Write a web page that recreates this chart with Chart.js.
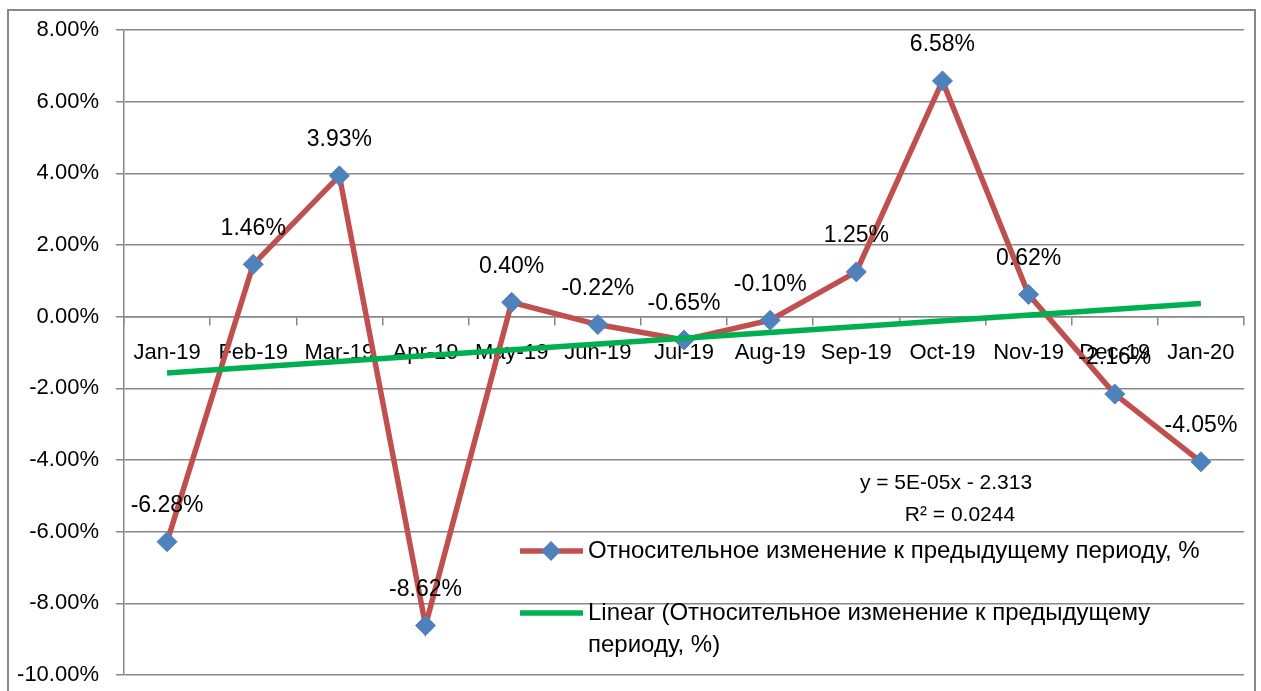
<!DOCTYPE html>
<html>
<head>
<meta charset="utf-8">
<title>Относительное изменение к предыдущему периоду</title>
<script src="https://cdn.jsdelivr.net/npm/chart.js@4.4.0/dist/chart.umd.min.js"></script>
<style>
  html, body { margin: 0; padding: 0; background: #fff; }
  #wrap { width: 1261px; height: 691px; position: relative; }
</style>
</head>
<body>
<div id="wrap"><canvas id="chart"></canvas></div>
<script>
// monthly figures, in percent
const months = ['Jan-19', 'Feb-19', 'Mar-19', 'Apr-19', 'May-19', 'Jun-19', 'Jul-19',
                'Aug-19', 'Sep-19', 'Oct-19', 'Nov-19', 'Dec-19', 'Jan-20'];
const changePct = [-6.28, 1.46, 3.93, -8.62, 0.40, -0.22, -0.65, -0.10, 1.25, 6.58, 0.62, -2.16, -4.05];
// linear trendline: value at the first and the last month
const trendEnds = [-1.57, 0.37];
const yRange = [-10, 8, 2]; // min, max, step

const seriesName = 'Относительное изменение к предыдущему периоду, %';
const trendName = 'Linear (Относительное изменение к предыдущему периоду, %)';
const trendEquation = ['y = 5E-05x - 2.313', 'R² = 0.0244'];

const FONT = '"Liberation Sans", Arial, sans-serif';
const GRID = '#888888';
const RED = '#C0504D';
const BLUE = '#4F81BD';
const GREEN = '#00B050';

Chart.defaults.font.family = FONT;
Chart.defaults.font.size = 22;
Chart.defaults.color = '#000';

const pct = v => v.toFixed(2) + '%';

// only the two ends are known, the line is drawn straight between them
const trendData = months.map((m, i) => {
    if (i === 0) return trendEnds[0];
    if (i === months.length - 1) return trendEnds[1];
    return null;
});

// outer frame of the chart
const framePlugin = {
    id: 'frame',
    beforeDraw(chart) {
        const ctx = chart.ctx;
        ctx.save();
        ctx.strokeStyle = GRID;
        ctx.lineWidth = 2;
        ctx.strokeRect(8, 10, 1247, 720);
        ctx.restore();
    }
};

// value labels above each point
const valueLabels = {
    id: 'valueLabels',
    afterDatasetsDraw(chart) {
        const ctx = chart.ctx;
        const meta = chart.getDatasetMeta(1);
        ctx.save();
        ctx.font = '23px ' + FONT;
        ctx.fillStyle = '#000';
        ctx.textAlign = 'center';
        ctx.textBaseline = 'middle';
        meta.data.forEach((pt, i) => {
            ctx.fillText(pct(changePct[i]), pt.x, pt.y - 36);
        });
        ctx.restore();
    }
};

function wrapText(ctx, text, maxWidth) {
    const words = text.split(' ');
    const lines = [];
    let line = '';
    words.forEach(w => {
        const test = line ? line + ' ' + w : w;
        if (line && ctx.measureText(test).width > maxWidth) {
            lines.push(line);
            line = w;
        } else {
            line = test;
        }
    });
    lines.push(line);
    return lines;
}

// legend and trendline equation inside the plot
const innerLegend = {
    id: 'innerLegend',
    afterDraw(chart) {
        const ctx = chart.ctx;
        ctx.save();
        ctx.fillStyle = '#000';
        ctx.textBaseline = 'middle';

        ctx.font = '21px ' + FONT;
        ctx.textAlign = 'center';
        ctx.fillText(trendEquation[0], 946, 483);
        ctx.fillText(trendEquation[1], 960, 515);

        ctx.font = '24px ' + FONT;
        ctx.textAlign = 'left';
        const maxW = ctx.measureText(seriesName).width + 6;

        // series entry
        ctx.strokeStyle = RED;
        ctx.lineWidth = 5.5;
        ctx.beginPath();
        ctx.moveTo(520, 551);
        ctx.lineTo(583, 551);
        ctx.stroke();
        ctx.fillStyle = BLUE;
        ctx.beginPath();
        ctx.moveTo(551, 541);
        ctx.lineTo(561, 551);
        ctx.lineTo(551, 561);
        ctx.lineTo(541, 551);
        ctx.closePath();
        ctx.fill();
        ctx.fillStyle = '#000';
        ctx.fillText(seriesName, 588, 551);

        // trendline entry
        ctx.strokeStyle = GREEN;
        ctx.beginPath();
        ctx.moveTo(520, 613);
        ctx.lineTo(583, 613);
        ctx.stroke();
        wrapText(ctx, trendName, maxW).forEach((ln, k) => {
            ctx.fillText(ln, 588, 613 + k * 32);
        });
        ctx.restore();
    }
};

new Chart(document.getElementById('chart'), {
    type: 'line',
    data: {
        labels: months,
        datasets: [
            {
                label: trendName,
                data: trendData,
                borderColor: GREEN,
                borderWidth: 5.5,
                pointRadius: 0,
                spanGaps: true,
                tension: 0
            },
            {
                label: seriesName,
                data: changePct,
                borderColor: RED,
                borderWidth: 5.5,
                pointStyle: 'rectRot',
                pointRadius: 10,
                pointBackgroundColor: BLUE,
                pointBorderColor: BLUE,
                pointBorderWidth: 1,
                tension: 0
            }
        ]
    },
    options: {
        responsive: true,
        maintainAspectRatio: false,
        animation: false,
        layout: { padding: { left: 0, top: 30, right: 17, bottom: 16 } },
        plugins: {
            legend: { display: false },
            tooltip: { enabled: false }
        },
        scales: {
            x: {
                position: { y: 0 },
                offset: true,
                grid: {
                    offset: true,
                    drawOnChartArea: false,
                    drawTicks: true,
                    tickLength: 8,
                    color: GRID,
                    lineWidth: 1.5
                },
                border: { display: true, color: GRID, width: 1.5 },
                ticks: { autoSkip: false, maxRotation: 0, padding: 15 }
            },
            y: {
                min: yRange[0],
                max: yRange[1],
                ticks: { stepSize: yRange[2], padding: 17, callback: v => pct(v) },
                grid: { color: GRID, lineWidth: 1.5, tickLength: 8 },
                border: { color: GRID, width: 1.5 },
                afterFit(scale) {
                    scale.width = 124;
                    // the layout padding already leaves room for the end labels
                    scale.paddingTop = 0;
                    scale.paddingBottom = 0;
                }
            }
        }
    },
    plugins: [framePlugin, valueLabels, innerLegend]
});
</script>
</body>
</html>
